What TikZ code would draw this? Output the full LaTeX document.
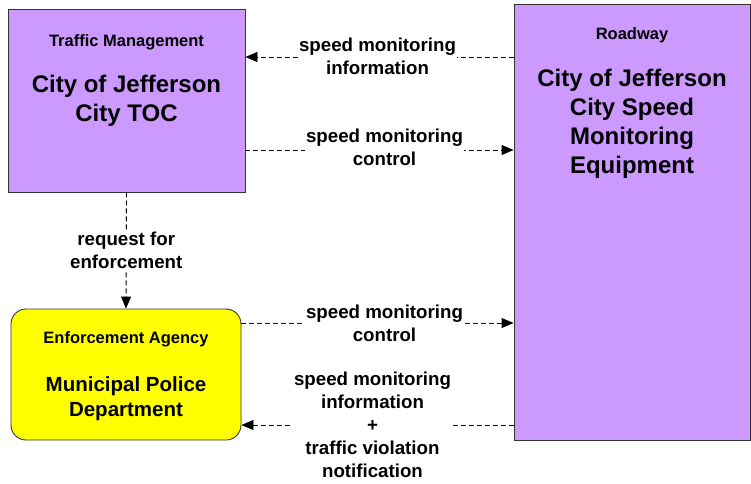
\documentclass[tikz,border=0pt]{standalone}
\usepackage{fontspec}
\setmainfont{Liberation Sans}
\usetikzlibrary{arrows.meta}
\definecolor{boxpurple}{HTML}{CC99FF}
\definecolor{boxyellow}{HTML}{FFFF00}
\definecolor{boxline}{HTML}{333333}
\tikzset{
  elembox/.style={draw=boxline, line width=0.9pt, fill=boxpurple, inner sep=0pt},
  smalltitle/.style={font=\fontsize{16.5}{20}\selectfont\bfseries, inner sep=0pt, align=center},
  bigtitle/.style={font=\fontsize{24}{29}\selectfont\bfseries, inner sep=0pt, align=center},
  flowlabel/.style={font=\fontsize{18.7}{23}\selectfont\bfseries, fill=white, inner sep=1.5pt, align=center},
  flow/.style={line width=0.9pt, dash pattern=on 5pt off 3pt, -{Triangle[length=12pt,width=10pt]}},
}
\begin{document}
\begin{tikzpicture}[x=1pt,y=-1pt]
\useasboundingbox (0,0) rectangle (751,483);
% boxes
\node[elembox, minimum width=237pt, minimum height=183pt] (toc) at (126.5,100.5) {};
\node[elembox, minimum width=236pt, minimum height=436pt] (road) at (632,222) {};
\node[elembox, fill=boxyellow, rounded corners=15pt, minimum width=230pt, minimum height=131pt] (police) at (126,374.5) {};
% texts
\node[smalltitle] (toct) at (126.5,42) {Traffic Management};
\node[bigtitle] (tocn) at (126.5,100.5) {City of Jefferson\\City TOC};
\node[smalltitle] (roadt) at (632,35) {Roadway};
\node[bigtitle] (roadn) at (632,123.5) {City of Jefferson\\City Speed\\Monitoring\\Equipment};
\node[smalltitle] (polt) at (126,339) {Enforcement Agency};
\node[font=\fontsize{20.5}{25}\selectfont\bfseries, inner sep=0pt, align=center] (poln) at (126,398.5) {Municipal Police\\Department};
% flows
\draw[flow] (road.west |- 0,57) -- node[flowlabel, xshift=-2pt, yshift=0.5pt] (l1) {speed monitoring\\information} (toc.east |- 0,57);
\draw[flow] (toc.east |- 0,150) -- node[flowlabel, xshift=5pt, yshift=2.5pt] (l2) {speed monitoring\\control} (road.west |- 0,150);
\draw[flow] (toc.south) -- node[flowlabel] (l3) {request for\\enforcement} (police.north);
\draw[flow] (police.east |- 0,323) -- node[flowlabel, xshift=7pt] (l4) {speed monitoring\\control} (road.west |- 0,323);
\draw[flow] (road.west |- 0,425) -- node[flowlabel, xshift=-5pt] (l5) {speed monitoring\\information\\+\\traffic violation\\notification} (police.east |- 0,425);
\end{tikzpicture}
\end{document}
